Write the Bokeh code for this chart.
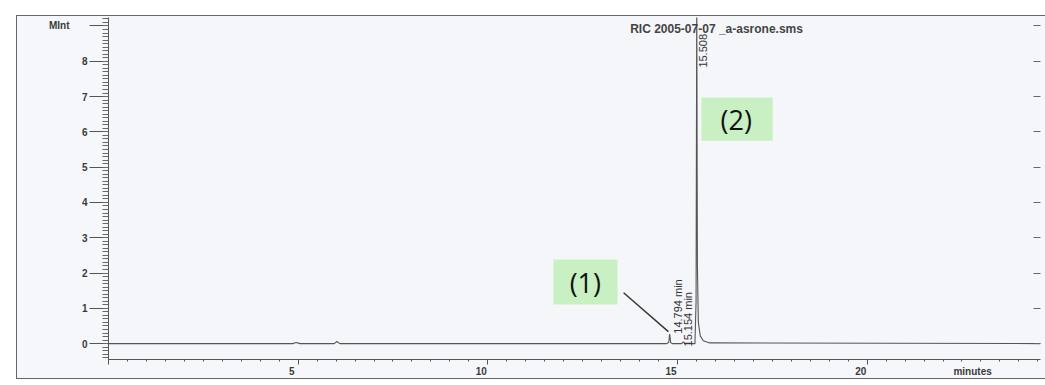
from bokeh.plotting import figure
from bokeh.models import (Range1d, LinearAxis, SingleIntervalTicker, FixedTicker,
                          Label, BoxAnnotation, Arrow)
from bokeh.embed import file_html
from bokeh.resources import INLINE

# ---- data ----
time_min = [0.0, 4.85, 4.95, 5.05, 5.95, 6.02, 6.10, 14.72, 14.77, 14.794, 14.82,
            14.86, 15.11, 15.154, 15.20, 15.46, 15.49, 15.508, 15.525, 15.55,
            15.60, 15.68, 15.85, 24.57]
intensity = [0.0, 0.0, 0.03, 0.0, 0.0, 0.06, 0.0, 0.0, 0.04, 0.27, 0.03,
             0.0, 0.0, 0.05, 0.0, 0.0, 1.2, 9.8, 2.2, 0.6,
             0.22, 0.08, 0.02, 0.0]
peak_times = [14.794, 15.154, 15.508]
peak_texts = ["14.794 min", "15.154 min", "15.508"]
x_major = [5, 10, 15, 20]
x_major_labels = ["5", "10", "15", "20"]
y_major = [0, 1, 2, 3, 4, 5, 6, 7, 8]
title_text = "RIC 2005-07-07 _a-asrone.sms"
y_unit = "MInt"
x_unit = "minutes"
callouts = ["(1)", "(2)"]

FONT = "Liberation Sans"
INK = "#3a3a3a"

p = figure(width=1045, height=385, x_range=Range1d(0, 24.57),
           y_range=Range1d(-0.45, 9.24), output_backend="svg",
           toolbar_location=None, x_axis_type=None, y_axis_type=None,
           min_border_left=108, min_border_right=5, min_border_top=17,
           min_border_bottom=26, background_fill_color="#f4f6fa",
           border_fill_color=None, outline_line_color=None, title=None)
# page-side frame: white margin, thin grey lines, light paper tone inside
p.styles = {
    "background-image": ("linear-gradient(to bottom, #fff 15px, #666 15px, #666 16px, transparent 16px), "
                         "linear-gradient(to top, #fff 6px, #666 6px, #666 7px, transparent 7px), "
                         "linear-gradient(to right, #fff 16px, #666 16px, #666 17px, #f6f7fa 17px)"),
    "background-position": "16px 0, 16px 0, 0 0",
    "background-size": "100% 100%, 100% 100%, 100% 100%",
    "background-repeat": "no-repeat",
}

# left axis (ticks + numbers)
ya = LinearAxis(ticker=SingleIntervalTicker(interval=1, num_minor_ticks=10))
ya.major_label_overrides = {v: str(v) for v in y_major} | {9: ""}
ya.axis_line_color = "#555"
ya.major_tick_line_color = "#555"
ya.minor_tick_line_color = "#666"
ya.major_tick_in = 0
ya.major_tick_out = 19
ya.minor_tick_in = 0
ya.minor_tick_out = 6
ya.major_label_standoff = 2
ya.major_label_text_font = FONT
ya.major_label_text_font_style = "bold"
ya.major_label_text_font_size = "10px"
ya.major_label_text_color = INK
p.add_layout(ya, "left")

# outer left axis carrying only the unit "MInt" at the top tick
ya2 = LinearAxis(ticker=FixedTicker(ticks=[9], minor_ticks=[]))
ya2.major_label_overrides = {9: y_unit}
ya2.axis_line_color = None
ya2.major_tick_line_color = None
ya2.minor_tick_line_color = None
ya2.major_tick_in = 0
ya2.major_tick_out = 0
ya2.minor_tick_in = 0
ya2.minor_tick_out = 0
ya2.major_label_standoff = 9
ya2.major_label_text_font = FONT
ya2.major_label_text_font_style = "bold"
ya2.major_label_text_font_size = "10px"
ya2.major_label_text_color = INK
p.add_layout(ya2, "left")

# bottom axis: line and ticks only
xa = LinearAxis(ticker=SingleIntervalTicker(interval=5, num_minor_ticks=10))
xa.axis_line_color = "#555"
xa.major_tick_line_color = "#555"
xa.minor_tick_line_color = "#555"
xa.major_tick_in = 0
xa.major_tick_out = 5
xa.minor_tick_in = 0
xa.minor_tick_out = 2
xa.major_label_standoff = 0
xa.major_label_text_font_size = "0px"
xa.major_label_text_color = None
p.add_layout(xa, "below")

# bottom labels (numbers sit slightly left of their ticks, plus the unit)
label_ticks = [t - 0.17 for t in x_major] + [22.78]
xb = LinearAxis(ticker=FixedTicker(ticks=label_ticks, minor_ticks=[]))
xb.major_label_overrides = dict(zip(label_ticks, x_major_labels + [x_unit]))
xb.axis_line_color = None
xb.major_tick_line_color = None
xb.minor_tick_line_color = None
xb.major_tick_in = 0
xb.major_tick_out = 0
xb.minor_tick_in = 0
xb.minor_tick_out = 0
xb.major_label_standoff = 1
xb.major_label_text_font = FONT
xb.major_label_text_font_style = "bold"
xb.major_label_text_font_size = "10px"
xb.major_label_text_color = INK
p.add_layout(xb, "below")

# right axis (ticks only)
ra = LinearAxis(ticker=SingleIntervalTicker(interval=1, num_minor_ticks=0))
ra.axis_line_color = None
ra.major_tick_line_color = "#666"
ra.major_tick_in = 7
ra.major_tick_out = 0
ra.minor_tick_in = 0
ra.minor_tick_out = 0
ra.major_label_standoff = 0
ra.major_label_text_font_size = "0px"
ra.major_label_text_color = None
p.add_layout(ra, "right")

# trace
p.line(time_min, intensity, line_color="#555", line_width=1.1)

# title inside the frame
p.add_layout(Label(x=16.03, y=8.92, text=title_text, text_font=FONT,
                   text_font_size="12px", text_font_style="bold",
                   text_color="#444", text_align="center",
                   text_baseline="middle"))

peak_label_y = [0.28, -0.08, 7.82]
peak_label_dx = [2, -1, 2]
for t, s, yy, dx in zip(peak_times, peak_texts, peak_label_y, peak_label_dx):
    p.add_layout(Label(x=t, y=yy, x_offset=dx, text=s, angle=90,
                       angle_units="deg", text_font=FONT,
                       text_font_size="11px", text_color="#333",
                       text_align="left", text_baseline="top"))

# callout boxes
GREEN = "#c9f0c3"
p.add_layout(BoxAnnotation(left=11.73, right=13.42, bottom=1.105, top=2.38,
                           fill_color=GREEN, fill_alpha=1, line_color=None))
p.add_layout(BoxAnnotation(left=15.63, right=17.51, bottom=5.75, top=6.97,
                           fill_color=GREEN, fill_alpha=1, line_color=None))
p.add_layout(Label(x=12.57, y=1.72, text=callouts[0], text_font="Open Sans",
                   text_font_size="27px", text_color="#111",
                   text_align="center", text_baseline="middle"))
p.add_layout(Label(x=16.55, y=6.34, text=callouts[1], text_font="Open Sans",
                   text_font_size="27px", text_color="#111",
                   text_align="center", text_baseline="middle"))
p.add_layout(Arrow(end=None, x_start=13.58, y_start=1.44, x_end=14.76,
                   y_end=0.34, line_color="#333", line_width=1.4))

open("out.html", "w").write(file_html(p, INLINE))
